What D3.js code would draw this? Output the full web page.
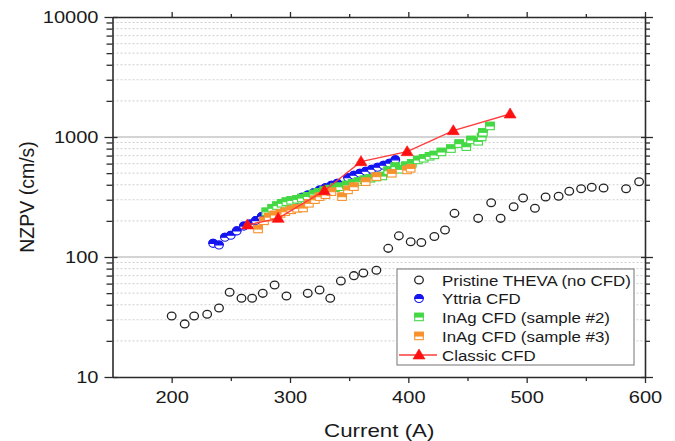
<!DOCTYPE html>
<html>
<head>
<meta charset="utf-8">
<script src="https://cdn.jsdelivr.net/npm/d3@7"></script>
<style>
  html, body { margin: 0; padding: 0; background: #fff; }
  svg { display: block; font-family: "Liberation Sans", Arial, sans-serif; }
</style>
</head>
<body>
<svg id="chart" width="675" height="441"></svg>
<script>
// ---------- data ----------
const seriesNames = ["Pristine THEVA (no CFD)", "Yttria CFD", "InAg CFD (sample #2)", "InAg CFD (sample #3)", "Classic CFD"];

const pristineX = [200,211,219,230,240,249,259,268,277,287,297,315,325,334,343,354,362,373,383,392,402,411,422,431,439,459,470,478,489,497,507,516,527,536,546,555,565,584,595];
const pristineY = [32.2,27.7,32.2,33.3,37.6,50.8,45.3,45.3,49.8,58.4,47.3,49.8,53.1,45.3,63.1,69.9,73.6,77.5,118,150,134,132,148,168,231,210,283,210,262,310,255,316,321,353,371,381,376,371,424];

const yttriaX = [235,240,245,250,255,261,266,271,276,281,286,290,295,300,305,310,315,320,325,330,335,340,349,354,359,364,369,374,379,384,389];
const yttriaY = [130,126,146,152,165,181,188,201,217,231,243,259,271,283,298,314,329,343,361,378,396,411,458,480,498,518,538,559,581,604,645];

const inag2X = [280,285,289,293,297,301,306,310,315,320,324,329,334,338,342,348,353,358,363,368,373,378,383,389,393,398,403,408,413,418,422,428,436,443,449,453,459,462,463,469];
const inag2Y = [238,255,268,280,289,296,302,310,320,335,345,357,368,378,385,398,411,425,440,452,463,473,524,566,538,576,604,643,664,690,708,750,800,880,830,944,920,1000,1094,1235];

const inag3X = [273,278,282,287,292,296,301,306,311,316,321,325,330,335,344,349,354,364,373,386,399,402];
const inag3Y = [171,200,215,224,230,238,247,254,256,280,300,318,330,350,318,362,385,424,467,498,531,548];

const classicX = [264,290,329,360,399,438,486];
const classicY = [185,210,357,623,754,1129,1555];

const xMajorTicks = [200,300,400,500,600];
const xMinorTicks = [250,350,450,550];
const yMajorTicks = [10,100,1000,10000];
const yMinorTicks = [20,30,40,50,60,70,80,90,200,300,400,500,600,700,800,900,2000,3000,4000,5000,6000,7000,8000,9000];

const xTitle = "Current (A)";
const yTitle = "NZPV (cm/s)";

// ---------- layout ----------
const L = 112.5, R = 645, T = 17, B = 377;
const SX = 1.18; // horizontal text stretch of the reference
const axisColor = "#2b2b2b";
const cBlue = "#1414f0", cGreen = "#45d845", cOrange = "#f7922e", cRed = "#ff1010", cBlack = "#222";

const svg = d3.select("#chart");
const x = d3.scaleLinear().domain([150, 600]).range([L, R]);
const y = d3.scaleLog().domain([10, 10000]).range([B, T]);

// ---------- grid ----------
const grid = svg.append("g");
grid.selectAll("line.minor").data(yMinorTicks).join("line")
  .attr("x1", L).attr("x2", R)
  .attr("y1", d => y(d)).attr("y2", d => y(d))
  .attr("stroke", "#cfcfcf").attr("stroke-width", 1).attr("stroke-dasharray", "2,2");
grid.selectAll("line.major").data([100, 1000]).join("line")
  .attr("x1", L).attr("x2", R)
  .attr("y1", d => y(d)).attr("y2", d => y(d))
  .attr("stroke", "#c6c6c6").attr("stroke-width", 1.3);

// ---------- axes ----------
function styleAxis(g) {
  g.select(".domain").attr("stroke", axisColor).attr("stroke-width", 1.6);
  g.selectAll(".tick line").attr("stroke", axisColor).attr("stroke-width", 1.3);
}
// bottom
const gB = svg.append("g").attr("transform", `translate(0,${B})`)
  .call(d3.axisBottom(x).tickValues(xMajorTicks).tickSize(6).tickSizeOuter(0).tickFormat(d3.format("d")));
styleAxis(gB);
gB.selectAll("text").attr("y", 14).attr("dy", "0.71em")
  .attr("font-size", 17).attr("fill", "#1a1a1a").attr("font-family", "Liberation Sans, Arial, sans-serif")
  .attr("transform", `scale(${SX},1)`);
const gBm = svg.append("g").attr("transform", `translate(0,${B})`)
  .call(d3.axisBottom(x).tickValues(xMinorTicks).tickSize(4).tickSizeOuter(0).tickFormat(""));
styleAxis(gBm); gBm.select(".domain").remove();
// top
const gT = svg.append("g").attr("transform", `translate(0,${T})`)
  .call(d3.axisTop(x).tickValues(xMajorTicks).tickSize(5).tickSizeOuter(0).tickFormat(""));
styleAxis(gT);
const gTm = svg.append("g").attr("transform", `translate(0,${T})`)
  .call(d3.axisTop(x).tickValues(xMinorTicks).tickSize(3).tickSizeOuter(0).tickFormat(""));
styleAxis(gTm); gTm.select(".domain").remove();
// left
const gL = svg.append("g").attr("transform", `translate(${L},0)`)
  .call(d3.axisLeft(y).tickValues(yMajorTicks).tickSize(8).tickSizeOuter(0).tickFormat(d3.format("d")));
styleAxis(gL);
gL.selectAll(".tick line").attr("x2", -8).attr("x1", 5);
gL.selectAll("text").attr("x", -14 / SX).attr("dy", "0.35em")
  .attr("font-size", 17).attr("fill", "#1a1a1a").attr("font-family", "Liberation Sans, Arial, sans-serif")
  .attr("transform", `scale(${SX},1)`);
const gLm = svg.append("g").attr("transform", `translate(${L},0)`)
  .call(d3.axisLeft(y).tickValues(yMinorTicks).tickSize(6).tickSizeOuter(0).tickFormat(""));
styleAxis(gLm); gLm.select(".domain").remove();
// right
const gR = svg.append("g").attr("transform", `translate(${R},0)`)
  .call(d3.axisRight(y).tickValues(yMajorTicks).tickSize(8).tickSizeOuter(0).tickFormat(""));
styleAxis(gR);
gR.selectAll(".tick line").attr("x1", -4);
const gRm = svg.append("g").attr("transform", `translate(${R},0)`)
  .call(d3.axisRight(y).tickValues(yMinorTicks).tickSize(5).tickSizeOuter(0).tickFormat(""));
styleAxis(gRm); gRm.select(".domain").remove();

// titles
svg.append("text")
  .attr("transform", `translate(${(L + R) / 2 + 0.5},437) scale(1.24,1)`)
  .attr("text-anchor", "middle").attr("font-size", 18).attr("fill", "#1a1a1a")
  .text(xTitle);
svg.append("text")
  .attr("transform", `translate(34,197) rotate(-90)`)
  .attr("text-anchor", "middle").attr("font-size", 19.5).attr("fill", "#1a1a1a")
  .text(yTitle);

// ---------- marker helpers ----------
function openCircle(g, cx, cy) {
  g.append("ellipse").attr("cx", cx).attr("cy", cy).attr("rx", 4.3).attr("ry", 3.9)
    .attr("fill", "none").attr("stroke", cBlack).attr("stroke-width", 1.3);
}
function halfCircle(g, cx, cy, col) {
  const rx = 4.3, ry = 4;
  g.append("ellipse").attr("cx", cx).attr("cy", cy).attr("rx", rx).attr("ry", ry)
    .attr("fill", "#fff").attr("stroke", col).attr("stroke-width", 1.1);
  g.append("path")
    .attr("d", `M${cx - rx},${cy} A${rx},${ry} 0 0 1 ${cx + rx},${cy} Z`)
    .attr("fill", col).attr("stroke", col).attr("stroke-width", 1.1);
}
function halfSquare(g, cx, cy, col) {
  const w = 8.6, h = 7.4;
  g.append("rect").attr("x", cx - w / 2).attr("y", cy - h / 2).attr("width", w).attr("height", h)
    .attr("fill", "#fff").attr("stroke", col).attr("stroke-width", 1.1);
  g.append("rect").attr("x", cx - w / 2).attr("y", cy - h / 2).attr("width", w).attr("height", h / 2)
    .attr("fill", col).attr("stroke", col).attr("stroke-width", 1.1);
}
function triangle(g, cx, cy) {
  g.append("path")
    .attr("d", `M${cx},${cy - 6} L${cx + 6},${cy + 4} L${cx - 6},${cy + 4} Z`)
    .attr("fill", cRed).attr("stroke", cRed).attr("stroke-width", 0.6);
}

// ---------- series ----------
const gP = svg.append("g");
pristineX.forEach((v, i) => openCircle(gP, x(v), y(pristineY[i])));

const gY = svg.append("g");
yttriaX.forEach((v, i) => halfCircle(gY, x(v), y(yttriaY[i]), cBlue));

const gG = svg.append("g");
inag2X.forEach((v, i) => halfSquare(gG, x(v), y(inag2Y[i]), cGreen));

const gO = svg.append("g");
inag3X.forEach((v, i) => halfSquare(gO, x(v), y(inag3Y[i]), cOrange));

const gC = svg.append("g");
const classicPts = classicX.map((v, i) => [v, classicY[i]]);
gC.append("path").datum(classicPts)
  .attr("d", d3.line().x(d => x(d[0])).y(d => y(d[1])))
  .attr("fill", "none").attr("stroke", "#ff3b3b").attr("stroke-width", 1.3);
classicPts.forEach(d => triangle(gC, x(d[0]), y(d[1])));

// ---------- legend ----------
const lg = svg.append("g");
lg.append("rect").attr("x", 397).attr("y", 269).attr("width", 237).attr("height", 96)
  .attr("fill", "#fff").attr("stroke", "#8a8a8a").attr("stroke-width", 1.2);
const rowY = [280, 298.5, 317, 336, 355];
const symX = 419;
openCircle(lg, symX, rowY[0]);
halfCircle(lg, symX, rowY[1], cBlue);
halfSquare(lg, symX, rowY[2], cGreen);
halfSquare(lg, symX, rowY[3], cOrange);
lg.append("line").attr("x1", 399).attr("x2", 437).attr("y1", rowY[4]).attr("y2", rowY[4])
  .attr("stroke", "#ff3b3b").attr("stroke-width", 1.3);
triangle(lg, symX, rowY[4]);
seriesNames.forEach((name, i) => {
  lg.append("text")
    .attr("transform", `translate(442,${rowY[i]}) scale(1.09,1)`)
    .attr("dy", "0.36em").attr("font-size", 15.5).attr("fill", "#1a1a1a")
    .text(name);
});
</script>
</body>
</html>
